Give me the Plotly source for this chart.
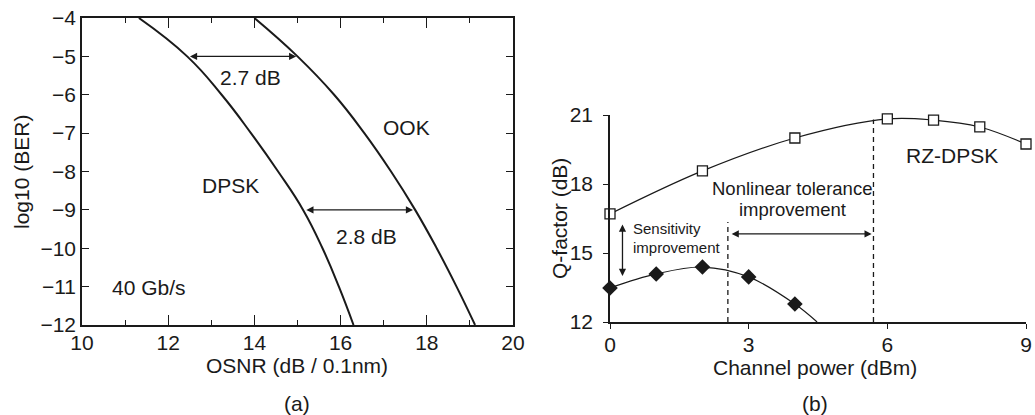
import plotly.graph_objects as go

# ---------------- data: panel (a) ----------------
ber_levels = [-4, -5, -6, -7, -8, -9, -10, -11, -12]
dpsk_osnr = [11.32, 12.44, 13.24, 13.92, 14.55, 15.13, 15.58, 15.96, 16.3]
ook_osnr = [14.0, 15.0, 15.85, 16.55, 17.17, 17.73, 18.23, 18.69, 19.12]
a_xticks = [10, 12, 14, 16, 18, 20]
a_yticks = [-4, -5, -6, -7, -8, -9, -10, -11, -12]
gap_27 = [12.47, 14.97, -5.0]   # x_start, x_end, y
gap_28 = [15.17, 17.68, -9.0]

# ---------------- data: panel (b) ----------------
rz_power = [0, 2, 4, 6, 7, 8, 9]
rz_q = [16.7, 18.57, 20.0, 20.83, 20.78, 20.48, 19.74]
nrz_power = [0, 1, 2, 3, 4]
nrz_q = [13.48, 14.09, 14.39, 13.96, 12.78]
nrz_fit_power = [0, 1, 2, 3, 4, 4.48]
nrz_fit_q = [13.48, 14.09, 14.39, 13.96, 12.78, 12.0]
b_xticks = [0, 3, 6, 9]
b_yticks = [12, 15, 18, 21]
dash_lines = [[2.55, 12, 16.35], [5.7, 12, 20.8]]   # x, y0, y1
nl_arrow = [2.6, 5.66, 15.83]
sens_arrow = [0.27, 16.3, 14.0]   # x, y_top, y_bottom

FONT = "Liberation Sans, Arial, Helvetica, sans-serif"
BLACK = "#1a1a1a"

fig = go.Figure()

fig.add_trace(go.Scatter(x=dpsk_osnr, y=ber_levels, mode="lines",
                         line=dict(color=BLACK, width=2, shape="spline", smoothing=1.3),
                         xaxis="x", yaxis="y", showlegend=False, cliponaxis=True))
fig.add_trace(go.Scatter(x=ook_osnr, y=ber_levels, mode="lines",
                         line=dict(color=BLACK, width=2, shape="spline", smoothing=1.3),
                         xaxis="x", yaxis="y", showlegend=False, cliponaxis=True))

fig.add_trace(go.Scatter(x=nrz_fit_power, y=nrz_fit_q, mode="lines",
                         line=dict(color=BLACK, width=1.2, shape="spline"),
                         xaxis="x2", yaxis="y2", showlegend=False, cliponaxis=False))
fig.add_trace(go.Scatter(x=rz_power, y=rz_q, mode="lines+markers",
                         line=dict(color=BLACK, width=1.2, shape="spline"),
                         marker=dict(symbol="square", size=10, color="white", line=dict(color=BLACK, width=1.3)),
                         xaxis="x2", yaxis="y2", showlegend=False, cliponaxis=False))
fig.add_trace(go.Scatter(x=nrz_power, y=nrz_q, mode="markers",
                         marker=dict(symbol="diamond", size=12, color=BLACK, line=dict(color=BLACK, width=0)),
                         xaxis="x2", yaxis="y2", showlegend=False, cliponaxis=False))

W, H = 1035, 415
def px_x(p):
    return p / W
def px_y(p):
    return 1 - p / H

common = dict(showgrid=False, zeroline=False, automargin=False, tickfont=dict(size=21, color=BLACK),
              showline=True, linecolor=BLACK, linewidth=1.5, tickwidth=1.2, tickcolor=BLACK)

fig.update_layout(
    width=W, height=H, margin=dict(l=0, r=0, t=0, b=0, autoexpand=False),
    paper_bgcolor="white", plot_bgcolor="white",
    font=dict(family=FONT, size=21, color=BLACK),
    xaxis=dict(domain=[px_x(82), px_x(513)], range=[10, 20], tickvals=a_xticks,
               ticks="inside", ticklen=10,
               minor=dict(dtick=1, ticks="inside", ticklen=5, tickwidth=1.2, tickcolor=BLACK),
               mirror="allticks", anchor="y", ticklabelstandoff=-2, **common),
    yaxis=dict(domain=[px_y(325), px_y(18)], range=[-12, -4], tickvals=a_yticks,
               ticks="inside", ticklen=7, mirror="allticks", anchor="x", **common),
    xaxis2=dict(domain=[px_x(610), px_x(1026)], range=[0, 9], tickvals=b_xticks,
                ticks="outside", ticklen=5, mirror=False, anchor="y2", ticklabelstandoff=-2, **common),
    yaxis2=dict(domain=[px_y(322), px_y(115)], range=[12, 21], tickvals=b_yticks,
                ticks="outside", ticklen=5, mirror=False, anchor="x2",
                ticklabelstandoff=6, **common),
)

# dashed vertical lines (panel b)
for xv, y0, y1 in dash_lines:
    fig.add_shape(type="line", xref="x2", yref="y2", x0=xv, x1=xv, y0=y0, y1=y1,
                  line=dict(color=BLACK, width=1.3, dash="5px,4px"))

def dbl_arrow(x0, y0, x1, y1, xr, yr):
    fig.add_annotation(x=x1, y=y1, ax=x0, ay=y0, xref=xr, yref=yr, axref=xr, ayref=yr,
                       text="", showarrow=True, arrowhead=2, startarrowhead=2, arrowside="end+start",
                       arrowsize=1.1, startarrowsize=1.1, arrowwidth=1.3, arrowcolor=BLACK)

dbl_arrow(gap_27[0], gap_27[2], gap_27[1], gap_27[2], "x", "y")
dbl_arrow(gap_28[0], gap_28[2], gap_28[1], gap_28[2], "x", "y")
dbl_arrow(nl_arrow[0], nl_arrow[2], nl_arrow[1], nl_arrow[2], "x2", "y2")
dbl_arrow(sens_arrow[0], sens_arrow[1], sens_arrow[0], sens_arrow[2], "x2", "y2")

def txt(x, y, s, xr, yr, size=21, xanchor="center", angle=0):
    fig.add_annotation(x=x, y=y, xref=xr, yref=yr, text=s, showarrow=False,
                       font=dict(size=size, family=FONT, color=BLACK), xanchor=xanchor,
                       yanchor="middle", textangle=angle, borderpad=0)

# panel (a) labels
txt(13.9, -5.55, "2.7 dB", "x", "y")
txt(16.59, -9.7, "2.8 dB", "x", "y")
txt(13.45, -8.36, "DPSK", "x", "y")
txt(17.54, -6.86, "OOK", "x", "y")
txt(11.56, -11.03, "40 Gb/s", "x", "y")

# panel (b) labels
txt(3.94, 17.8, "Nonlinear tolerance", "x2", "y2", size=18.5)
txt(3.94, 16.88, "improvement", "x2", "y2", size=18.5)
txt(0.47, 16.06, "Sensitivity", "x2", "y2", size=15, xanchor="left")
txt(0.47, 15.23, "improvement", "x2", "y2", size=15, xanchor="left")
txt(7.4, 19.22, "RZ-DPSK", "x2", "y2")

# axis titles and panel captions (paper coords)
txt(px_x(21), px_y(172), "log10 (BER)", "paper", "paper", angle=-90)
txt(px_x(297), px_y(365), "OSNR (dB / 0.1nm)", "paper", "paper")
txt(px_x(297), px_y(403), "(a)", "paper", "paper")
txt(px_x(559), px_y(219), "Q-factor (dB)", "paper", "paper", angle=-90)
txt(px_x(815), px_y(367), "Channel power (dBm)", "paper", "paper")
txt(px_x(815), px_y(403), "(b)", "paper", "paper")

fig.write_html("out.html")
